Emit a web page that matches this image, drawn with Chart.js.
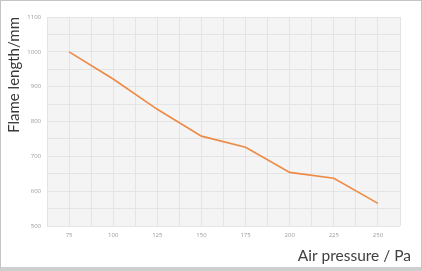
<!DOCTYPE html>
<html lang="en">
<head>
    <meta charset="UTF-8">
    <title>Flame length vs air pressure</title>
    <script src="https://cdn.jsdelivr.net/npm/chart.js"></script>
    <style>
        html, body { margin: 0; padding: 0; background: #fff; }
        .frame {
            width: 422px; height: 271px; box-sizing: border-box;
            border: 1px solid #c4c4c4; border-bottom: 4px solid #cfcfcf;
            position: relative;
        }
        .frame canvas { display: block; }
    </style>
</head>
<body>
    <div class="frame"><canvas id="flameChart" width="420" height="266"></canvas></div>

    <script>
        // data
        const pressures = [75, 100, 125, 150, 175, 200, 225, 250];
        const flameLengths = [1000, 922, 835, 758, 726, 654, 637, 565];
        const yTicks = [500, 600, 700, 800, 900, 1000, 1100];

        const points = pressures.map((p, i) => ({ x: p, y: flameLengths[i] }));

        // light grey plot background + x title hanging past the right edge of the plot
        const extras = {
            id: 'extras',
            beforeDraw(chart) {
                const { ctx, chartArea: a } = chart;
                ctx.save();
                ctx.fillStyle = '#f4f4f4';
                ctx.fillRect(a.left, a.top, a.right - a.left, a.bottom - a.top);
                ctx.restore();
            },
            afterDraw(chart) {
                const ctx = chart.ctx;
                ctx.save();
                ctx.font = '15.5px Lato';
                ctx.fillStyle = '#404040';
                ctx.textAlign = 'right';
                ctx.textBaseline = 'alphabetic';
                ctx.fillText('Air pressure / Pa', chart.width - 10, chart.height - 6);
                ctx.restore();
            }
        };

        new Chart(document.getElementById('flameChart'), {
            type: 'line',
            data: {
                datasets: [{
                    data: points,
                    borderColor: '#ee8a45',
                    borderWidth: 1.6,
                    pointRadius: 0,
                    tension: 0,
                    fill: false
                }]
            },
            options: {
                responsive: false,
                animation: false,
                layout: { padding: { top: 16, right: 21, left: 4, bottom: 0 } },
                plugins: { legend: { display: false }, tooltip: { enabled: false } },
                scales: {
                    x: {
                        type: 'linear',
                        min: 62.5,
                        max: 262.5,
                        border: { display: false },
                        grid: { color: '#e4e4e4', lineWidth: 1, drawTicks: false },
                        ticks: {
                            stepSize: 12.5,
                            autoSkip: false,
                            padding: 6,
                            color: '#9a9a9a',
                            font: { size: 6, family: 'Open Sans' },
                            maxRotation: 0,
                            callback: v => (pressures.includes(v) ? v : '')
                        },
                        afterFit(scale) { scale.height = 41; }
                    },
                    y: {
                        min: 500,
                        max: 1100,
                        border: { display: false },
                        grid: { color: '#e4e4e4', lineWidth: 1, drawTicks: false },
                        ticks: {
                            stepSize: 50,
                            autoSkip: false,
                            padding: 6,
                            color: '#9a9a9a',
                            font: { size: 6, family: 'Open Sans' },
                            callback: v => (yTicks.includes(v) ? v : '')
                        },
                        title: {
                            display: true,
                            text: 'Flame length/mm',
                            align: 'end',
                            color: '#383838',
                            font: { size: 15, family: 'Lato' },
                            padding: { top: 0, bottom: 6 }
                        },
                        afterFit(scale) { scale.width = 42; }
                    }
                }
            },
            plugins: [extras]
        });
    </script>
</body>
</html>
